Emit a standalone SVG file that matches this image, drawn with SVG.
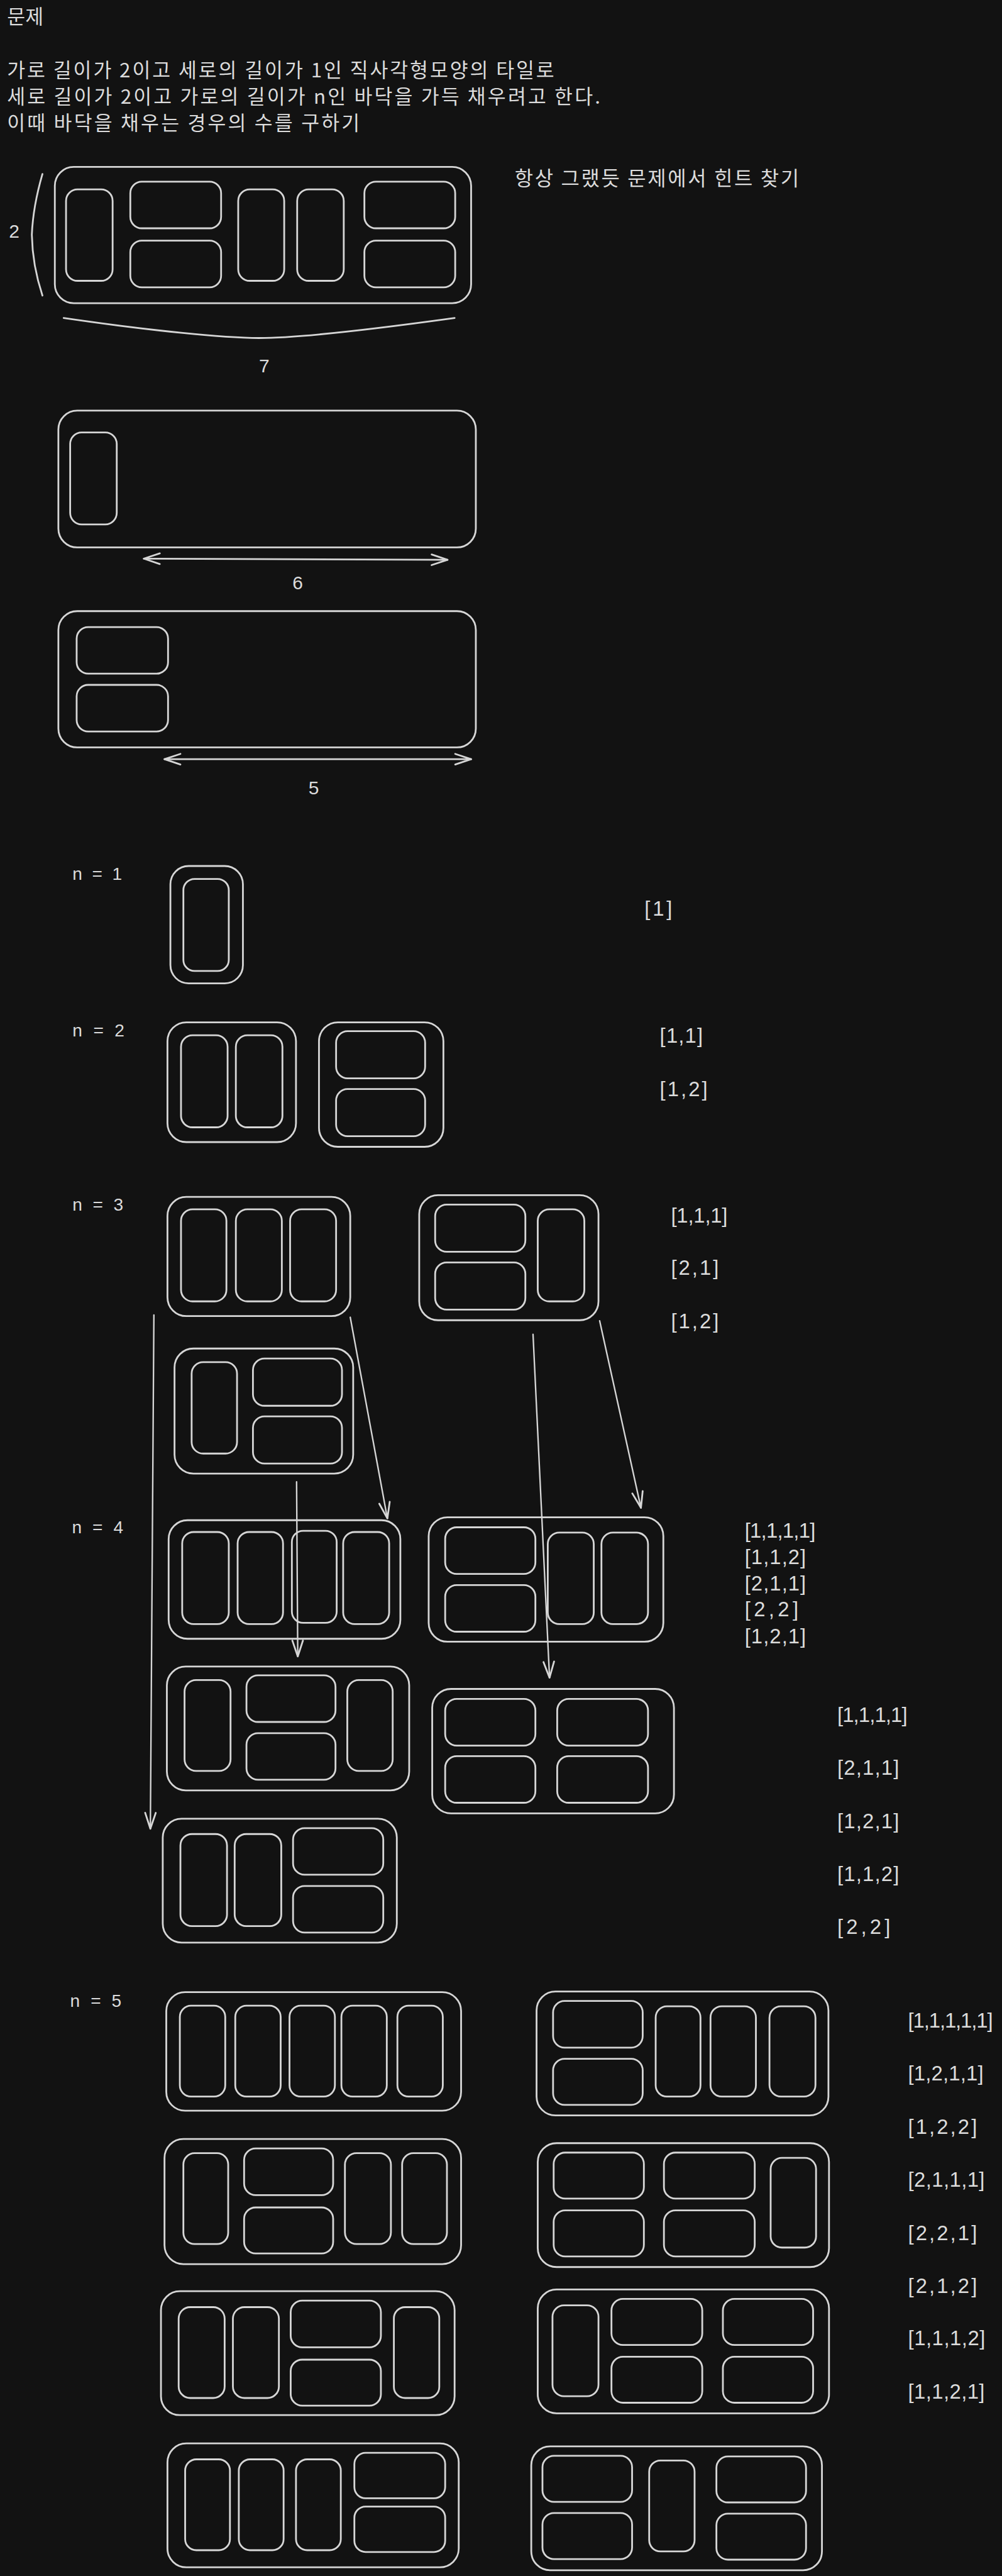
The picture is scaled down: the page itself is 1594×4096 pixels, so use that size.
<svg xmlns="http://www.w3.org/2000/svg" width="1594" height="4096" viewBox="0 0 1594 4096">
<style>
.o{fill:none;stroke:#d6d6d6;stroke-width:3}
.t{fill:none;stroke:#d6d6d6;stroke-width:3}
.ln{fill:none;stroke:#d6d6d6;stroke-width:3;stroke-linecap:round}
.c{fill:none;stroke:#d6d6d6;stroke-width:2.5;stroke-linecap:round;marker-end:url(#ah)}
.d{fill:none;stroke:#d6d6d6;stroke-width:3;stroke-linecap:round;marker-start:url(#ah);marker-end:url(#ah)}
.kr{font-family:"Noto Sans CJK KR","Noto Sans",sans-serif;fill:#dcdcdc}
.lb{font-family:"Liberation Sans",Arial,sans-serif;font-size:35px;fill:#dcdcdc}
.nl{font-family:"Liberation Sans",Arial,sans-serif;font-size:30px;fill:#dcdcdc}
.dg{font-family:"Liberation Sans",Arial,sans-serif;font-size:32px;fill:#dcdcdc;text-anchor:middle}
</style>
<defs>
<marker id="ah" viewBox="-32 -14 36 28" refX="0" refY="0" markerWidth="36" markerHeight="28" markerUnits="userSpaceOnUse" orient="auto-start-reverse">
<path d="M-27,-9 L0,0 L-27,9" fill="none" stroke="#d6d6d6" stroke-width="3" stroke-linecap="round" stroke-linejoin="round"/>
</marker>
</defs>
<rect x="0" y="0" width="1594" height="4096" fill="#121212"/>
<g transform="scale(0.938)">
<g id="intro-text" class="kr">
<text x="12" y="41" font-size="33.5">문제</text>
<text x="12" y="131" font-size="33.5" textLength="928">가로 길이가 2이고 세로의 길이가 1인 직사각형모양의 타일로</text>
<text x="12" y="176" font-size="33.5" textLength="1006">세로 길이가 2이고 가로의 길이가 n인 바닥을 가득 채우려고 한다.</text>
<text x="12" y="221" font-size="33.5" textLength="598">이때 바닥을 채우는 경우의 수를 구하기</text>
</g>
<g id="hint-text" class="kr">
<text x="873" y="315" font-size="34" textLength="482">항상 그랬듯 문제에서 힌트 찾기</text>
</g>

<g id="example-7">
<rect class="o" x="93" y="283" width="706" height="231" rx="32"/>
<rect class="t" x="112" y="321" width="79" height="155" rx="19.5"/>
<rect class="t" x="221" y="308" width="154" height="79" rx="19.5"/>
<rect class="t" x="221" y="408" width="154" height="79" rx="19.5"/>
<rect class="t" x="404" y="321" width="78" height="155" rx="19.5"/>
<rect class="t" x="504" y="321" width="79" height="155" rx="19.5"/>
<rect class="t" x="618" y="308" width="154" height="79" rx="19.5"/>
<rect class="t" x="618" y="408" width="154" height="79" rx="19.5"/>
<path class="ln" d="M72,295 Q56,350 54,398 Q55,450 72,501"/>
<path class="ln" d="M108,539 C250,560 380,573 439,573 C500,573 620,560 771,539"/>
<text class="dg" x="24" y="403">2</text>
<text class="dg" x="448" y="631">7</text>
</g>

<g id="example-6">
<rect class="o" x="99" y="696" width="708" height="232" rx="32"/>
<rect class="t" x="119" y="733" width="79" height="156" rx="19.5"/>
<text class="dg" x="505" y="999">6</text>
</g>

<g id="example-5">
<rect class="o" x="99" y="1036" width="708" height="231" rx="32"/>
<rect class="t" x="130" y="1063" width="155" height="79" rx="19.5"/>
<rect class="t" x="130" y="1161" width="155" height="79" rx="19.5"/>
<text class="dg" x="532" y="1346">5</text>
</g>

<g id="n-labels">
<text class="nl" x="123" y="1492" textLength="84">n = 1</text>
<text class="nl" x="123" y="1757" textLength="88">n = 2</text>
<text class="nl" x="123" y="2052" textLength="86">n = 3</text>
<text class="nl" x="122" y="2599" textLength="87">n = 4</text>
<text class="nl" x="119" y="3402" textLength="87">n = 5</text>
</g>

<g id="n1-1">
<rect class="o" x="289" y="1468" width="123" height="199" rx="31"/>
<rect class="t" x="311" y="1490" width="77" height="156" rx="19"/>
</g>

<g id="n2-11">
<rect class="o" x="284" y="1733" width="218" height="203" rx="32"/>
<rect class="t" x="307" y="1755" width="79" height="156" rx="19.5"/>
<rect class="t" x="400" y="1755" width="79" height="156" rx="19.5"/>
</g>
<g id="n2-2">
<rect class="o" x="541" y="1733" width="211" height="211" rx="32"/>
<rect class="t" x="570" y="1748" width="151" height="80" rx="19.5"/>
<rect class="t" x="570" y="1846" width="151" height="80" rx="19.5"/>
</g>

<g id="n3-111">
<rect class="o" x="284" y="2029" width="310" height="202" rx="32"/>
<rect class="t" x="307" y="2050" width="77" height="156" rx="19.5"/>
<rect class="t" x="400" y="2050" width="78" height="156" rx="19.5"/>
<rect class="t" x="492" y="2050" width="78" height="156" rx="19.5"/>
</g>
<g id="n3-21">
<rect class="o" x="711" y="2026" width="304" height="212" rx="32"/>
<rect class="t" x="738" y="2042" width="153" height="80" rx="19.5"/>
<rect class="t" x="738" y="2140" width="153" height="80" rx="19.5"/>
<rect class="t" x="912" y="2050" width="79" height="156" rx="19.5"/>
</g>
<g id="n3-12">
<rect class="o" x="296" y="2286" width="303" height="212" rx="32"/>
<rect class="t" x="325" y="2309" width="77" height="155" rx="19.5"/>
<rect class="t" x="429" y="2303" width="151" height="80" rx="19.5"/>
<rect class="t" x="429" y="2401" width="151" height="80" rx="19.5"/>
</g>

<g id="n4-1111">
<rect class="o" x="286" y="2577" width="393" height="201" rx="32"/>
<rect class="t" x="309" y="2597" width="79" height="156" rx="19.5"/>
<rect class="t" x="403" y="2597" width="77" height="156" rx="19.5"/>
<rect class="t" x="495" y="2595" width="76" height="156" rx="19"/>
<rect class="t" x="582" y="2597" width="78" height="156" rx="19.5"/>
</g>
<g id="n4-211">
<rect class="o" x="727" y="2572" width="398" height="211" rx="32"/>
<rect class="t" x="755" y="2589" width="153" height="79" rx="19.5"/>
<rect class="t" x="755" y="2687" width="153" height="79" rx="19.5"/>
<rect class="t" x="929" y="2598" width="78" height="155" rx="19.5"/>
<rect class="t" x="1020" y="2598" width="79" height="155" rx="19.5"/>
</g>
<g id="n4-121">
<rect class="o" x="283" y="2825" width="411" height="210" rx="32"/>
<rect class="t" x="313" y="2848" width="78" height="154" rx="19.5"/>
<rect class="t" x="418" y="2840" width="151" height="79" rx="19.5"/>
<rect class="t" x="418" y="2938" width="151" height="79" rx="19.5"/>
<rect class="t" x="589" y="2848" width="77" height="154" rx="19.5"/>
</g>
<g id="n4-22">
<rect class="o" x="733" y="2863" width="410" height="211" rx="32"/>
<rect class="t" x="755" y="2880" width="153" height="79" rx="19.5"/>
<rect class="t" x="945" y="2880" width="154" height="79" rx="19.5"/>
<rect class="t" x="755" y="2977" width="153" height="79" rx="19.5"/>
<rect class="t" x="945" y="2977" width="154" height="79" rx="19.5"/>
</g>
<g id="n4-112">
<rect class="o" x="276" y="3083" width="397" height="210" rx="32"/>
<rect class="t" x="306" y="3109" width="79" height="156" rx="19.5"/>
<rect class="t" x="398" y="3109" width="79" height="156" rx="19.5"/>
<rect class="t" x="497" y="3099" width="153" height="79" rx="19.5"/>
<rect class="t" x="497" y="3197" width="153" height="79" rx="19.5"/>
</g>

<g id="n5-11111">
<rect class="o" x="282" y="3377" width="500" height="201" rx="32"/>
<rect class="t" x="305" y="3400" width="77" height="154" rx="19"/>
<rect class="t" x="399" y="3400" width="77" height="154" rx="19"/>
<rect class="t" x="491" y="3400" width="77" height="154" rx="19"/>
<rect class="t" x="579" y="3400" width="77" height="154" rx="19"/>
<rect class="t" x="674" y="3400" width="77" height="154" rx="19"/>
</g>
<g id="n5-2111">
<rect class="o" x="910" y="3376" width="495" height="210" rx="32"/>
<rect class="t" x="938" y="3392" width="152" height="79" rx="19.5"/>
<rect class="t" x="938" y="3490" width="152" height="78" rx="19.5"/>
<rect class="t" x="1112" y="3401" width="76" height="153" rx="19"/>
<rect class="t" x="1205" y="3401" width="77" height="153" rx="19"/>
<rect class="t" x="1305" y="3401" width="78" height="153" rx="19.5"/>
</g>
<g id="n5-1211">
<rect class="o" x="279" y="3626" width="503" height="212" rx="32"/>
<rect class="t" x="311" y="3650" width="76" height="154" rx="19"/>
<rect class="t" x="414" y="3642" width="151" height="79" rx="19.5"/>
<rect class="t" x="414" y="3742" width="151" height="78" rx="19.5"/>
<rect class="t" x="585" y="3650" width="78" height="154" rx="19.5"/>
<rect class="t" x="682" y="3650" width="76" height="154" rx="19"/>
</g>
<g id="n5-221">
<rect class="o" x="912" y="3633" width="494" height="210" rx="32"/>
<rect class="t" x="939" y="3649" width="153" height="78" rx="19.5"/>
<rect class="t" x="1126" y="3649" width="154" height="78" rx="19.5"/>
<rect class="t" x="939" y="3747" width="153" height="78" rx="19.5"/>
<rect class="t" x="1126" y="3747" width="154" height="78" rx="19.5"/>
<rect class="t" x="1307" y="3658" width="77" height="152" rx="19"/>
</g>
<g id="n5-1121">
<rect class="o" x="273" y="3884" width="498" height="210" rx="32"/>
<rect class="t" x="303" y="3911" width="78" height="154" rx="19.5"/>
<rect class="t" x="395" y="3911" width="78" height="154" rx="19.5"/>
<rect class="t" x="493" y="3900" width="153" height="79" rx="19.5"/>
<rect class="t" x="493" y="4000" width="153" height="78" rx="19.5"/>
<rect class="t" x="668" y="3911" width="77" height="154" rx="19"/>
</g>
<g id="n5-122">
<rect class="o" x="912" y="3881" width="494" height="210" rx="32"/>
<rect class="t" x="937" y="3908" width="78" height="154" rx="19.5"/>
<rect class="t" x="1037" y="3897" width="154" height="78" rx="19.5"/>
<rect class="t" x="1226" y="3897" width="153" height="78" rx="19.5"/>
<rect class="t" x="1037" y="3995" width="154" height="78" rx="19.5"/>
<rect class="t" x="1226" y="3995" width="153" height="78" rx="19.5"/>
</g>
<g id="n5-1112">
<rect class="o" x="284" y="4142" width="494" height="210" rx="32"/>
<rect class="t" x="314" y="4169" width="76" height="154" rx="19"/>
<rect class="t" x="405" y="4169" width="76" height="154" rx="19"/>
<rect class="t" x="502" y="4169" width="76" height="154" rx="19"/>
<rect class="t" x="601" y="4158" width="154" height="77" rx="19"/>
<rect class="t" x="601" y="4249" width="154" height="77" rx="19"/>
</g>
<g id="n5-212">
<rect class="o" x="901" y="4147" width="493" height="210" rx="32"/>
<rect class="t" x="920" y="4163" width="152" height="78" rx="19.5"/>
<rect class="t" x="920" y="4260" width="152" height="78" rx="19.5"/>
<rect class="t" x="1101" y="4171" width="77" height="154" rx="19"/>
<rect class="t" x="1215" y="4164" width="152" height="78" rx="19.5"/>
<rect class="t" x="1215" y="4261" width="152" height="78" rx="19.5"/>
</g>

<g id="seq-labels" class="lb">
<text x="1093" y="1552" textLength="47">[1]</text>
<text x="1119" y="1768" textLength="73">[1,1]</text>
<text x="1119" y="1858" textLength="81">[1,2]</text>
<text x="1138" y="2072" textLength="96">[1,1,1]</text>
<text x="1138" y="2161" textLength="81">[2,1]</text>
<text x="1138" y="2252" textLength="81">[1,2]</text>
<text x="1263" y="2607" textLength="120">[1,1,1,1]</text>
<text x="1263" y="2651" textLength="104">[1,1,2]</text>
<text x="1263" y="2696" textLength="104">[2,1,1]</text>
<text x="1263" y="2740" textLength="91">[2,2]</text>
<text x="1263" y="2786" textLength="104">[1,2,1]</text>
<text x="1420" y="2919" textLength="119">[1,1,1,1]</text>
<text x="1420" y="3008" textLength="105">[2,1,1]</text>
<text x="1420" y="3099" textLength="105">[1,2,1]</text>
<text x="1420" y="3189" textLength="105">[1,1,2]</text>
<text x="1420" y="3278" textLength="90">[2,2]</text>
<text x="1540" y="3437" textLength="144">[1,1,1,1,1]</text>
<text x="1540" y="3527" textLength="128">[1,2,1,1]</text>
<text x="1540" y="3617" textLength="117">[1,2,2]</text>
<text x="1540" y="3707" textLength="130">[2,1,1,1]</text>
<text x="1540" y="3797" textLength="117">[2,2,1]</text>
<text x="1540" y="3887" textLength="117">[2,1,2]</text>
<text x="1540" y="3976" textLength="131">[1,1,1,2]</text>
<text x="1540" y="4066" textLength="130">[1,1,2,1]</text>
</g>

<g id="connectors">
<path class="d" d="M244,947 L759,949"/>
<path class="d" d="M279,1287 L799,1287"/>
<path class="c" d="M261,2229 L255,3100"/>
<path class="c" d="M594,2233 L657,2574"/>
<path class="c" d="M503,2512 L505,2808"/>
<path class="c" d="M904,2262 L932,2844"/>
<path class="c" d="M1017,2239 L1087,2556"/>
</g>
</g>
</svg>
